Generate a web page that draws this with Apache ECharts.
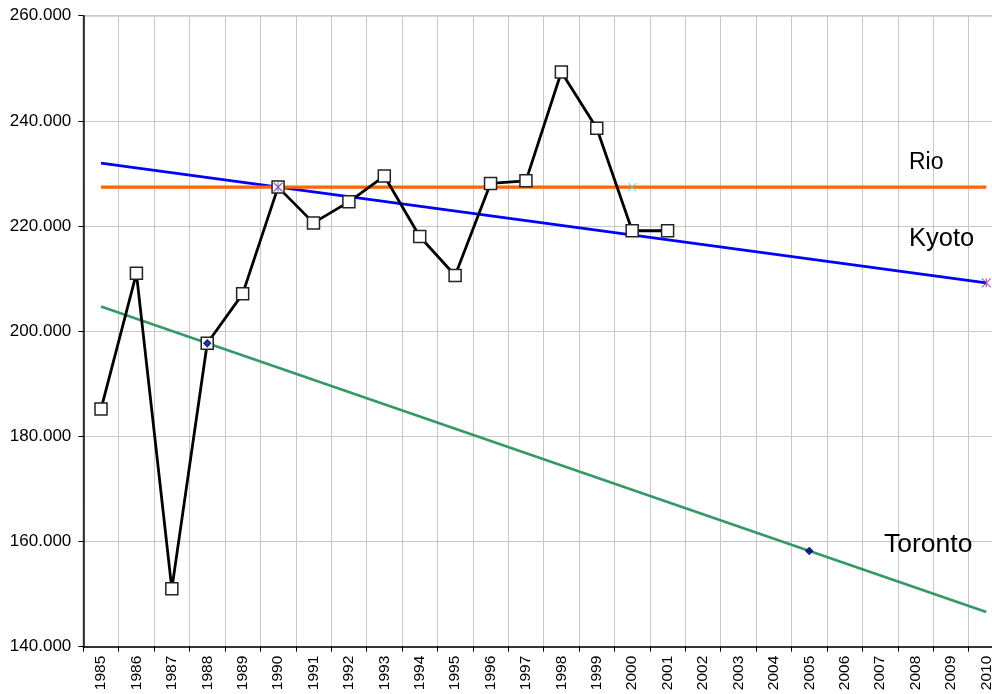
<!DOCTYPE html>
<html>
<head>
<meta charset="utf-8">
<script src="https://cdn.jsdelivr.net/npm/echarts@6/dist/echarts.min.js"></script>
<style>
  html, body { margin: 0; padding: 0; background: #fff; overflow: hidden; width: 992px; height: 694px; }
  /* the plot runs past the right edge of the picture, like the original */
  #chart { width: 1004px; height: 694px; }
</style>
</head>
<body>
<div id="chart"></div>
<script>
const years = ['1985', '1986', '1987', '1988', '1989', '1990', '1991', '1992', '1993',
  '1994', '1995', '1996', '1997', '1998', '1999', '2000', '2001', '2002', '2003',
  '2004', '2005', '2006', '2007', '2008', '2009', '2010']

// measured emissions (only up to 2001)
const emissions = [185200, 211000, 151000, 197700, 207100, 227400, 220600, 224600, 229500,
  218000, 210600, 228100, 228600, 249300, 238600, 219100, 219100]

// target lines, start and end points
const rioLine = [['1985', 227400], ['2010', 227400]]
const kyotoLine = [['1985', 231950], ['2010', 209200]]
const torontoLine = [['1985', 204700], ['2010', 146600]]

// target markers
const rioPoints = [['1990', 227400], ['2000', 227400]]
const kyotoPoints = [['1990', 227400], ['2010', 209200]]
const torontoPoints = [['1988', 197700], ['2005', 158200]]

const chart = echarts.init(document.getElementById('chart'))

const fmt = (v) => String(v).replace(/\B(?=(\d{3})+(?!\d))/g, '.')
const font = '"Liberation Sans", Arial, sans-serif'

const trend = (name, data, color, width) => ({
  name,
  type: 'line',
  data,
  showSymbol: false,
  silent: true,
  lineStyle: { color, width },
  z: 2,
})

const marks = (name, data, symbol, size, color, fill) => ({
  name: name + ' points',
  type: 'scatter',
  data,
  symbol,
  symbolSize: size,
  itemStyle: { color: fill, borderColor: color, borderWidth: 1.2 },
  z: 5,
})

const label = (text, x, y, size) => ({
  type: 'text',
  x,
  y,
  z: 10,
  style: { text, fontSize: size, fill: '#000', fontFamily: font, verticalAlign: 'middle' },
})

chart.setOption({
  animation: false,
  textStyle: { fontFamily: font },
  grid: {
    left: 83.3, top: 15.7, bottom: 47.3, right: 0,
    show: true, borderColor: '#333', borderWidth: 1,
  },
  xAxis: {
    type: 'category',
    data: years,
    boundaryGap: true,
    axisLine: { lineStyle: { color: '#000', width: 1.5 } },
    axisTick: { show: true, length: 5, lineStyle: { color: '#000' } },
    axisLabel: { rotate: 90, fontSize: 15.5, color: '#000', margin: 9, interval: 0, fontFamily: font },
    splitLine: { show: true, interval: 0, lineStyle: { color: '#c8c8c8', width: 1 } },
  },
  yAxis: {
    type: 'value',
    min: 140000,
    max: 260000,
    interval: 20000,
    axisLine: { show: true, lineStyle: { color: '#000', width: 1.5 } },
    axisTick: { show: true, length: 5, lineStyle: { color: '#000' } },
    axisLabel: { fontSize: 17, color: '#000', margin: 12, formatter: fmt, fontFamily: font },
    splitLine: { show: true, lineStyle: { color: '#c8c8c8', width: 1 } },
  },
  series: [
    trend('Toronto', torontoLine, '#339966', 2.6),
    trend('Kyoto', kyotoLine, '#0000ff', 2.8),
    trend('Rio', rioLine, '#ff6600', 3.2),
    {
      name: 'Emissions',
      type: 'line',
      data: emissions,
      symbol: 'rect',
      symbolSize: 12,
      showAllSymbol: true,
      lineStyle: { color: '#000', width: 2.8 },
      itemStyle: { color: '#fff', borderColor: '#222', borderWidth: 1.5 },
      z: 3,
    },
    marks('Rio', rioPoints, 'path://M0,0L10,10M10,0L0,10', 8, '#33dddd', 'none'),
    marks('Kyoto', kyotoPoints, 'path://M0,0L10,10M10,0L0,10M5,0L5,10', 9, '#9933aa', 'none'),
    marks('Toronto', torontoPoints, 'diamond', 7, '#000080', '#000080'),
  ],
  graphic: [
    label('Rio', 909, 162.5, 23),
    label('Kyoto', 909, 239, 25.5),
    label('Toronto', 884, 545, 26.5),
  ],
})
</script>
</body>
</html>
